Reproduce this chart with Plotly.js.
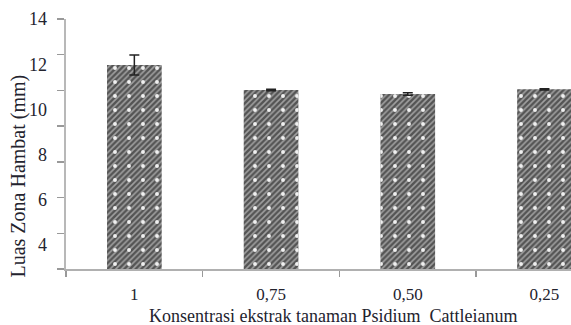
<!DOCTYPE html>
<html>
<head>
<meta charset="utf-8">
<script src="https://cdn.plot.ly/plotly-3.0.1.min.js"></script>
<style>html,body{margin:0;padding:0;background:#fff;}#chart{width:571px;height:325px;}</style>
</head>
<body>
<div id="chart"></div>
<script>
const categories = ['1', '0,75', '0,50', '0,25'];
const values = [11.42, 10.02, 9.80, 10.06];
const errors = [0.56, 0.04, 0.07, 0.03];
const yTickValues = [4, 6, 8, 10, 12, 14];
const yTickLabels = ['4', '6', '8', '10', '12', '14'];
const xTitle = 'Konsentrasi ekstrak tanaman Psidium  Cattleianum';
const yTitle = 'Luas Zona Hambat (mm)';

const serif = 'Liberation Serif';
const textColor = '#23232e';

const traces = [
  {
    type: 'bar', x: categories, y: values, width: 0.4,
    marker: {color: '#5a5a5a', line: {width: 0},
      pattern: {shape: '/', fgcolor: '#a0a0a0', bgcolor: '#545454', size: 4, solidity: 0.4}},
    hoverinfo: 'skip', showlegend: false
  },
  {
    type: 'bar', x: categories, y: values, width: 0.4,
    marker: {color: 'rgba(0,0,0,0)', line: {width: 0},
      pattern: {shape: '.', fgcolor: '#f0f0f0', bgcolor: 'rgba(0,0,0,0)', size: 14, solidity: 0.06}},
    error_y: {type: 'data', array: errors, visible: true, color: '#222', thickness: 1.5, width: 5},
    hoverinfo: 'skip', showlegend: false
  },
  {
    type: 'scatter', mode: 'markers', x: categories, y: values, yaxis: 'y2',
    marker: {opacity: 0}, hoverinfo: 'skip', showlegend: false
  }
];

const layout = {
  width: 571, height: 325,
  margin: {l: 66, r: 0, t: 19, b: 56},
  paper_bgcolor: '#fff', plot_bgcolor: '#fff',
  barmode: 'overlay',
  font: {family: serif, color: textColor, size: 17},
  xaxis: {
    type: 'category', range: [-0.5, 3.194],
    tickson: 'boundaries', ticks: 'outside', ticklen: 6, tickcolor: '#999', tickwidth: 1.5,
    showline: true, linecolor: '#b0b0b0', linewidth: 2,
    showgrid: false, zeroline: false,
    tickfont: {family: serif, size: 17, color: textColor},
    ticklabelstandoff: 9
  },
  yaxis: {
    range: [0, 14], dtick: 2, ticks: 'outside', ticklen: 7, tickcolor: '#999', tickwidth: 1.5,
    showline: true, linecolor: '#b8b8b8', linewidth: 2,
    showgrid: false, zeroline: false, showticklabels: false
  },
  yaxis2: {
    overlaying: 'y', side: 'left', range: [2.943, 14.001],
    tickmode: 'array', tickvals: yTickValues, ticktext: yTickLabels,
    ticks: '', showline: false, showgrid: false, zeroline: false,
    tickfont: {family: serif, size: 18, color: textColor},
    ticklabelstandoff: 18
  },
  annotations: [
    {text: yTitle, textangle: -90, xref: 'paper', yref: 'paper',
     x: -0.095, y: 0.37, xanchor: 'center', yanchor: 'middle', showarrow: false,
     font: {family: serif, size: 20, color: textColor}},
    {text: xTitle, xref: 'paper', yref: 'paper',
     x: 0.529, y: -0.188, xanchor: 'center', yanchor: 'middle', showarrow: false,
     font: {family: serif, size: 18, color: textColor}}
  ]
};

Plotly.newPlot('chart', traces, layout, {displayModeBar: false, staticPlot: true});
</script>
</body>
</html>
